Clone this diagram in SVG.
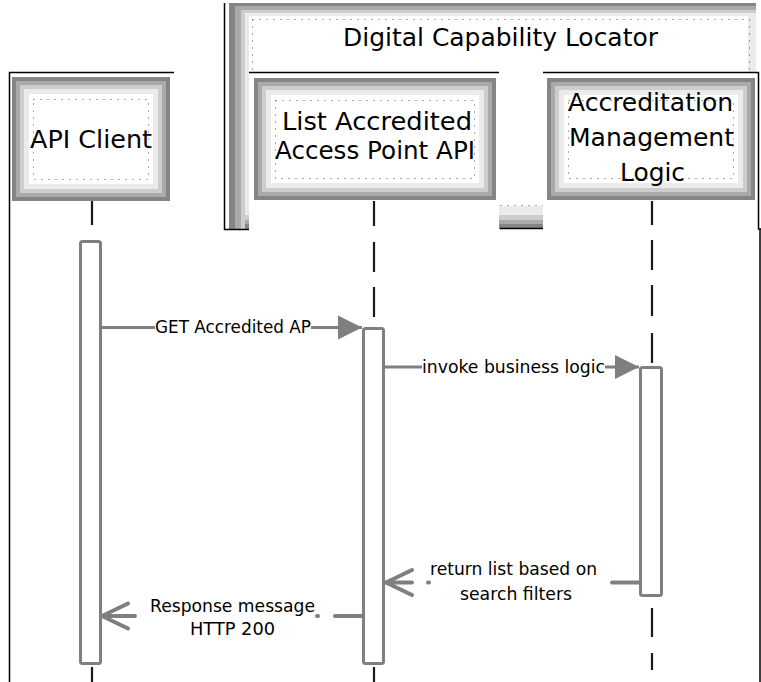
<svg xmlns="http://www.w3.org/2000/svg" width="761" height="682" viewBox="0 0 761 682">
<defs>
  <marker id="fillArrow" markerUnits="userSpaceOnUse" orient="auto" overflow="visible" markerWidth="24" markerHeight="24" refX="0" refY="0">
    <path d="M-24,-12 L0,0 L-24,12 Z" fill="#7f7f7f"/>
  </marker>
  <marker id="openArrow" markerUnits="userSpaceOnUse" orient="auto" overflow="visible" markerWidth="28" markerHeight="28" refX="0" refY="0">
    <path d="M-26,-12.5 L0,0 L-26,12.5" fill="none" stroke="#7f7f7f" stroke-width="4" stroke-linecap="round" stroke-linejoin="round"/>
  </marker>
</defs>
<style>
  .g1{fill:#858585} .g2{fill:#aaaaaa} .g3{fill:#cdcdcd} .g4{fill:#ebebeb} .wh{fill:#fff}
  .dot{fill:none;stroke:#555;stroke-width:1;stroke-dasharray:1 6}
  .frame{fill:none;stroke:#000;stroke-width:1.5}
  .head{font-family:'DejaVu Sans',sans-serif;font-size:24px;fill:#000;text-anchor:middle}
  .lbl{font-family:'DejaVu Sans',sans-serif;font-size:17px;fill:#000;text-anchor:middle}
  .life{stroke:#1a1a1a;stroke-width:2.2;fill:none}
  .bar{fill:#fff;stroke:#7f7f7f;stroke-width:3}
  .msg{stroke:#7f7f7f;stroke-width:3;fill:none}
  .ret{stroke:#7f7f7f;stroke-width:4;fill:none;stroke-linecap:round}
</style>
<rect width="761" height="682" fill="#fff"/>

<g id="dcl">
  <rect class="g4" x="229" y="3" width="527" height="226"/>
  <rect class="g1" x="229" y="3" width="527" height="3"/>
  <rect class="g2" x="229" y="6" width="527" height="4"/>
  <rect class="g3" x="229" y="10" width="527" height="3"/>
  <rect class="g1" x="229" y="3" width="6" height="226"/>
  <rect class="g2" x="235" y="6" width="6" height="223"/>
  <rect class="g3" x="241" y="10" width="4" height="219"/>
  <rect class="g3" x="245" y="215" width="511" height="5"/>
  <rect class="g2" x="245" y="220" width="511" height="4"/>
  <rect class="g1" x="245" y="224" width="511" height="5"/>
  <rect class="wh" x="249" y="16" width="499" height="190"/>
  <rect class="dot" x="252.5" y="19.5" width="497" height="186"/>
  <text class="head" x="500.5" y="46" textLength="315" lengthAdjust="spacingAndGlyphs">Digital Capability Locator</text>
</g>

<g id="lanes">
  <rect class="wh" x="249" y="72" width="250" height="157"/>
  <rect class="wh" x="543" y="72" width="215" height="157"/>
  <path class="frame" d="M9.5 682 V72.5 H174 M224.5 3 V229.5 H249 M249 72.5 H499 M500 228.5 H543 M543 72.5 H758.5 V229 H761 M760 229 V682"/>
</g>

<g id="api-client">
  <rect class="g1" x="12" y="77" width="158" height="124"/>
  <rect class="g2" x="16" y="81" width="150" height="116"/>
  <rect class="g3" x="20" y="85" width="142" height="108"/>
  <rect class="g4" x="24" y="89" width="134" height="100"/>
  <rect class="wh" x="29" y="94" width="124" height="90"/>
  <rect class="dot" x="33.5" y="99.5" width="115" height="80"/>
  <text class="head" x="91" y="148" textLength="122" lengthAdjust="spacingAndGlyphs">API Client</text>
  <path class="life" d="M92 201 V225 M92 667 V682"/>
  <rect class="bar" x="80.5" y="241.5" width="20" height="422" rx="2"/>
</g>

<g id="list-api">
  <rect class="g1" x="254" y="78" width="242" height="122"/>
  <rect class="g2" x="258" y="82" width="234" height="114"/>
  <rect class="g3" x="262" y="86" width="226" height="106"/>
  <rect class="g4" x="266" y="90" width="218" height="98"/>
  <rect class="wh" x="271" y="95" width="208" height="88"/>
  <rect class="dot" x="275.5" y="100.5" width="199" height="78"/>
  <text class="head" x="377" y="130" textLength="190" lengthAdjust="spacingAndGlyphs">List Accredited</text>
  <text class="head" x="375" y="159" textLength="200" lengthAdjust="spacingAndGlyphs">Access Point API</text>
  <path class="life" d="M374 201 V226 M374 242 V272 M374 287 V317 M374 667 V682"/>
  <rect class="bar" x="363.5" y="328.5" width="20" height="335" rx="2"/>
</g>

<g id="accreditation-logic">
  <rect class="g1" x="547" y="78" width="208" height="122"/>
  <rect class="g2" x="551" y="82" width="200" height="114"/>
  <rect class="g3" x="555" y="86" width="192" height="106"/>
  <rect class="g4" x="559" y="90" width="184" height="98"/>
  <rect class="wh" x="564" y="95" width="174" height="88"/>
  <rect class="dot" x="568.5" y="100.5" width="165" height="78"/>
  <text class="head" x="650.5" y="111" textLength="165" lengthAdjust="spacingAndGlyphs">Accreditation</text>
  <text class="head" x="651.5" y="146" textLength="165" lengthAdjust="spacingAndGlyphs">Management</text>
  <text class="head" x="652.5" y="181" textLength="65" lengthAdjust="spacingAndGlyphs">Logic</text>
  <path class="life" d="M652 201 V225 M652 240 V270 M652 285 V316 M652 333 V363 M652 608 V637 M652 653 V670"/>
  <rect class="bar" x="640.5" y="367.5" width="21" height="228" rx="2"/>
</g>

<g id="connectors">
  <path class="msg" marker-end="url(#fillArrow)" d="M102 327.5 H155 M311 327.5 H362"/>
  <text class="lbl" x="233" y="333" textLength="156" lengthAdjust="spacingAndGlyphs">GET Accredited AP</text>
  <path class="msg" marker-end="url(#fillArrow)" d="M385 367 H422 M605 367 H639"/>
  <text class="lbl" x="513.5" y="373" textLength="183" lengthAdjust="spacingAndGlyphs">invoke business logic</text>
  <path class="ret" marker-end="url(#openArrow)" d="M639 582.5 H612 M429 582.5 H428 M412 582.5 H386"/>
  <text class="lbl" x="513.5" y="575" textLength="167" lengthAdjust="spacingAndGlyphs">return list based on</text>
  <text class="lbl" x="516" y="600" textLength="112" lengthAdjust="spacingAndGlyphs">search filters</text>
  <path class="ret" marker-end="url(#openArrow)" d="M362 616 H335 M318 616 H317 M135 616 H102"/>
  <text class="lbl" x="232.5" y="612" textLength="165" lengthAdjust="spacingAndGlyphs">Response message</text>
  <text class="lbl" x="232.5" y="635" textLength="85" lengthAdjust="spacingAndGlyphs">HTTP 200</text>
</g>
</svg>
